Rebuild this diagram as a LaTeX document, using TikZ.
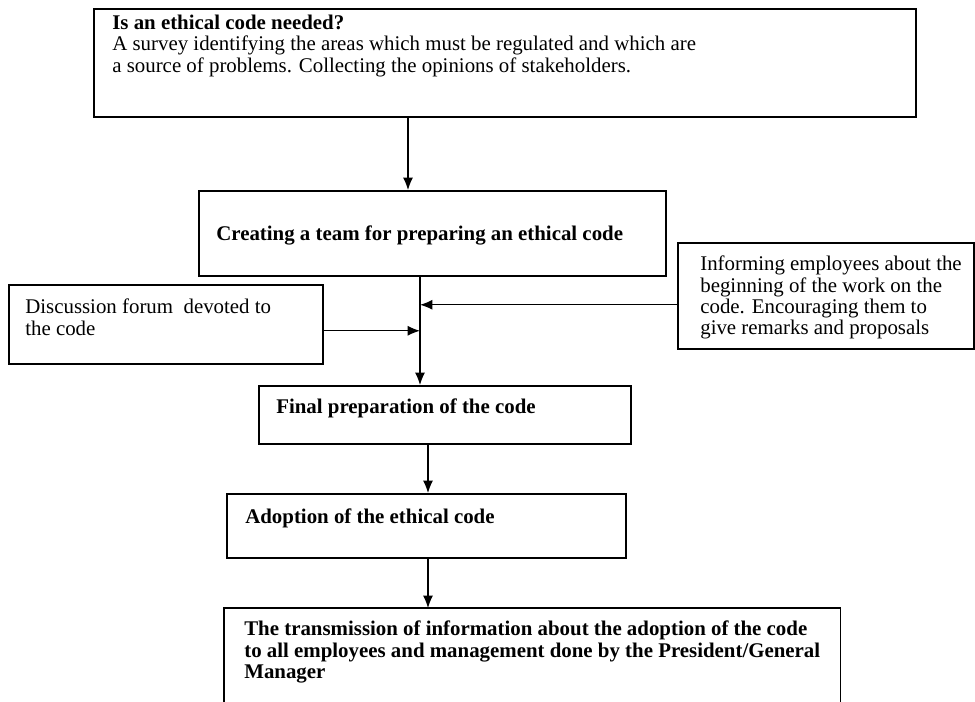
\documentclass[tikz,border=0pt]{standalone}
\usepackage{fontspec}
\setmainfont{Liberation Serif}
\usetikzlibrary{arrows.meta}
\usetikzlibrary{positioning}
\newlength\px
\setlength\px{0.642pt}
\tikzset{box/.style = {draw, line width=1pt, rectangle, inner sep=0, anchor=north west}}
\tikzset{txt/.style = {inner sep=0, anchor=north west, align=left, font=\fontsize{13.4}{13.8}\selectfont}}
\tikzset{arr/.style = {line width=0.8pt, -{Latex[length=8pt, width=6.5pt]}}}

\begin{document}
\begin{tikzpicture}[x=0.642pt, y=-0.642pt]
        \useasboundingbox (0,0) rectangle (975,701);
        \coordinate (spinetop) at (408,0);
        \coordinate (spine) at (420,0);
        \coordinate (spinelow) at (428,0);
        % boxes
        \node[box, minimum width=822\px, minimum height=108\px] (need) at (93,8) {};
        \node[box, minimum width=467\px, minimum height=85\px] (team) at (198,190) {};
        \node[box, minimum width=296\px, minimum height=106\px] (inform) at (677,242) {};
        \node[box, minimum width=314\px, minimum height=79\px] (forum) at (8,284) {};
        \node[box, minimum width=372\px, minimum height=58\px] (final) at (258,385) {};
        \node[box, minimum width=399\px, minimum height=64\px] (adopt) at (226,493) {};
        \node[inner sep=0, anchor=north west, minimum width=616\px, minimum height=95\px] (last) at (224,608) {};
        \draw[line width=1pt] (last.south west) |- (last.north east) -- (last.south east);
        % texts
        \node[txt] (need-t) at ([shift={(19,6.5)}]need.north west) {\textbf{Is an ethical code needed?}\\A survey identifying the areas which must be regulated and which are\\a source of problems. Collecting the opinions of stakeholders.};
        \node[txt] (team-t) at ([shift={(18,35.5)}]team.north west) {\textbf{Creating a team for preparing an ethical code}};
        \node[txt] (inform-t) at ([shift={(23,13.5)}]inform.north west) {Informing employees about the\\beginning of the work on the\\code. Encouraging them to\\give remarks and proposals};
        \node[txt] (forum-t) at ([shift={(17,14.5)}]forum.north west) {Discussion forum\ \ devoted to\\the code};
        \node[txt] (final-t) at ([shift={(18,13.5)}]final.north west) {\textbf{Final preparation of the code}};
        \node[txt] (adopt-t) at ([shift={(19,15.5)}]adopt.north west) {\textbf{Adoption of the ethical code}};
        \node[txt] (last-t) at ([shift={(20,12.5)}]last.north west) {\textbf{The transmission of information about the adoption of the code}\\\textbf{to all employees and management done by the President/General}\\\textbf{Manager}};
        % arrows
        \draw[arr] (need.south -| spinetop) -- (team.north -| spinetop);
        \draw[arr] (team.south -| spine) -- (final.north -| spine);
        \draw[arr] ([yshift=-9\px]inform.west) -- ([yshift=-9\px]inform.west -| spine);
        \draw[arr] ([yshift=-6.5\px]forum.east) -- ([yshift=-6.5\px]forum.east -| spine);
        \draw[arr] (final.south -| spinelow) -- (adopt.north -| spinelow);
        \draw[arr] (adopt.south -| spinelow) -- (last.north -| spinelow);
\end{tikzpicture}
\end{document}
